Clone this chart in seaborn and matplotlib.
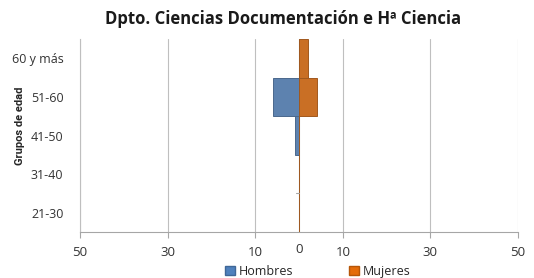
import numpy as np
import pandas as pd
import matplotlib
matplotlib.use('Agg')
import matplotlib.pyplot as plt
import seaborn as sns
from matplotlib.patches import Patch

# 数据
grupos = ['60 y más', '51-60', '41-50', '31-40', '21-30']
hombres = [0, 6, 1, 0, 0]
mujeres = [2, 4, 0, 0, 0]
ticks = [-50, -30, -10, 10, 30, 50]
tick_labels = ['50', '30', '10', '10', '30', '50']

azul = '#4F81BD'
naranja = '#E46C0A'

sns.set_theme(style='white')
plt.rcParams['font.family'] = ['Open Sans', 'DejaVu Sans']

df = pd.DataFrame({
    'grupo': grupos * 2,
    'valor': [-v for v in hombres] + mujeres,
    'sexo': ['Hombres'] * len(grupos) + ['Mujeres'] * len(grupos),
})

fig = plt.figure(figsize=(5.34, 2.78), dpi=100)
ax = fig.add_axes([0.150, 0.165, 0.820, 0.695])

sns.barplot(data=df, x='valor', y='grupo', hue='sexo', order=grupos,
            palette={'Hombres': azul, 'Mujeres': naranja}, dodge=False,
            width=1.0, orient='h', ax=ax, legend=False)

for p in ax.patches:
    c = p.get_facecolor()
    p.set_edgecolor(tuple(np.array(c[:3]) * 0.8))
    p.set_linewidth(0.7)

ax.set_xlim(-50, 50)
ax.set_ylim(4.5, -0.5)
for t in ticks:
    ax.axvline(t, color='#BFBFBF', lw=0.8, zorder=0)
ax.axvline(0, color='#A6A6A6', lw=0.8, zorder=0.5)
ax.plot([-0.6, 0], [3.5, 3.5], color='#A6A6A6', lw=0.8)

for s in ['top', 'right']:
    ax.spines[s].set_visible(False)
ax.spines['left'].set_color('#BFBFBF')
ax.spines['bottom'].set_color('#A6A6A6')
ax.spines['left'].set_linewidth(0.8)
ax.spines['bottom'].set_linewidth(0.8)

ax.set_xticks(ticks)
ax.set_xticklabels(tick_labels, fontsize=9.5, color='#333333')
ax.tick_params(axis='x', length=4, width=0.8, color='#A6A6A6', bottom=True, pad=6)
ax.tick_params(axis='y', length=0, pad=12, labelsize=9, labelcolor='#333333')
ax.text(0, -0.055, '0', transform=ax.get_xaxis_transform(), ha='center', va='top',
        fontsize=9.5, color='#333333')

ax.set_xlabel('')
ax.set_ylabel('Grupos de edad', fontsize=8, fontweight='bold',
              family=['Liberation Sans Narrow', 'Roboto', 'DejaVu Sans'])
ax.yaxis.set_label_coords(-0.125, 0.55)

fig.suptitle('Dpto. Ciencias Documentación e Hª Ciencia', x=0.53, y=0.965,
             fontsize=12, fontweight='bold', color='#1a1a1a')

handles = [Patch(facecolor=azul, edgecolor=tuple(np.array(matplotlib.colors.to_rgb(azul)) * 0.8)),
           Patch(facecolor=naranja, edgecolor=tuple(np.array(matplotlib.colors.to_rgb(naranja)) * 0.8))]
fig.legend(handles, ['Hombres', 'Mujeres'], loc='lower center', bbox_to_anchor=(0.595, -0.04),
           ncol=2, frameon=False, fontsize=9, handlelength=0.8, handleheight=0.8,
           handletextpad=0.3, columnspacing=4.5)

fig.savefig('out.png', dpi=100)
